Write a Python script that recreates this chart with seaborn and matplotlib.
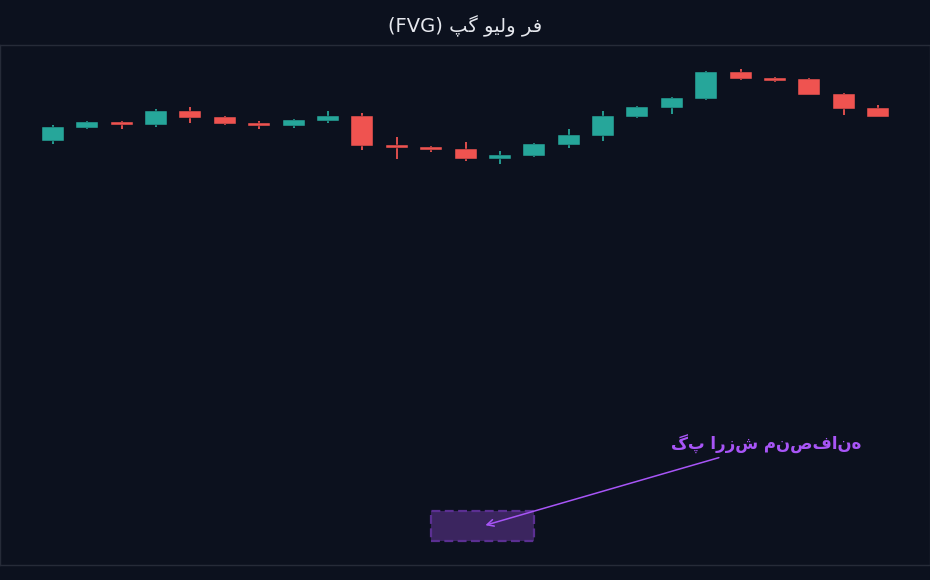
import matplotlib
matplotlib.use('Agg')
import matplotlib.pyplot as plt
from matplotlib.patches import Rectangle
import numpy as np
import pandas as pd
import seaborn as sns

# candle data
opens = [115.9, 117.2, 117.8, 117.5, 118.9, 118.3, 117.7, 117.4, 117.9, 118.4,
         115.5, 115.3, 115.1, 114.1, 114.4, 115.5, 116.4, 118.3, 119.2, 120.1,
         122.8, 122.2, 122.1, 120.6, 119.2]
highs = [117.5, 117.9, 117.9, 119.1, 119.3, 118.4, 117.9, 118.1, 118.9, 118.7,
         116.3, 115.4, 115.8, 114.9, 115.7, 117.1, 118.9, 119.4, 120.3, 122.9,
         123.1, 122.3, 122.2, 120.7, 119.5]
lows = [115.6, 117.1, 117.1, 117.3, 117.7, 117.5, 117.1, 117.2, 117.7, 115.0,
        114.1, 114.8, 113.9, 113.6, 114.3, 115.2, 115.9, 118.2, 118.6, 120.0,
        122.0, 121.8, 120.5, 118.5, 118.3]
closes = [117.3, 117.8, 117.5, 118.9, 118.2, 117.6, 117.4, 118.0, 118.4, 115.4,
          115.2, 115.0, 114.1, 114.5, 115.6, 116.5, 118.4, 119.3, 120.2, 122.8,
          122.1, 121.95, 120.5, 119.1, 118.3]

# fair value gap zone
gap_start, gap_end = 11, 14
gap_low, gap_high = 75.9, 78.9

title_text = '(FVG) \ufb57\ufb94 \ufeee\ufbff\ufedf\ufeed \ufeae\ufed3'
label_text = 'گپ ارزش منصفانه'

bg = '#0c111e'
up_color = '#26a69a'
down_color = '#ef5350'
purple = '#a855f7'

df = pd.DataFrame({'open': opens, 'high': highs, 'low': lows, 'close': closes})
df['x'] = np.arange(len(df))
df['up'] = df['close'] >= df['open']
df['color'] = np.where(df['up'], up_color, down_color)

sns.set_theme(style='dark', rc={'axes.facecolor': bg, 'figure.facecolor': bg,
                                'axes.edgecolor': '#262b38', 'text.color': '#e6e8ee'})
plt.rcParams['font.family'] = ['DejaVu Sans']

fig = plt.figure(figsize=(9.3, 5.8), dpi=100)
ax = fig.add_axes([0.0, 15 / 580, 1.0, 520 / 580])

# wicks
ax.vlines(df['x'], df['low'], df['high'], colors=df['color'], linewidth=1.3, zorder=2)
# bodies
body = (df['close'] - df['open']).abs().clip(lower=0.25)
bottom = df[['open', 'close']].min(axis=1)
ax.bar(df['x'], body, bottom=bottom, width=0.64, color=df['color'],
       edgecolor=bg, linewidth=0.3, zorder=3)

# FVG box
ax.add_patch(Rectangle((gap_start, gap_low), gap_end - gap_start, gap_high - gap_low,
                       facecolor=purple, alpha=0.3, edgecolor='none', zorder=1))
ax.add_patch(Rectangle((gap_start, gap_low), gap_end - gap_start, gap_high - gap_low,
                       facecolor='none', edgecolor='#5b2f92', linewidth=1.6,
                       linestyle=(0, (4, 2)), zorder=1))

ax.annotate(label_text, xy=((gap_start + gap_end) / 2, (gap_low + gap_high) / 2),
            xytext=(20.74, 85.6), color=purple, fontsize=12, fontweight='bold',
            ha='center', va='center',
            arrowprops=dict(arrowstyle='->', color=purple, linewidth=1.1))

ax.set_xlim(-1.54, 25.51)
ax.set_ylim(73.5, 125.5)
ax.set_xticks([])
ax.set_yticks([])
ax.grid(False)
for s in ax.spines.values():
    s.set_linewidth(1)

fig.text(0.5, 1 - 26 / 580, title_text, ha='center', va='center', fontsize=14,
         color='#e6e8ee')

fig.savefig('out.png', dpi=100, facecolor=bg)
